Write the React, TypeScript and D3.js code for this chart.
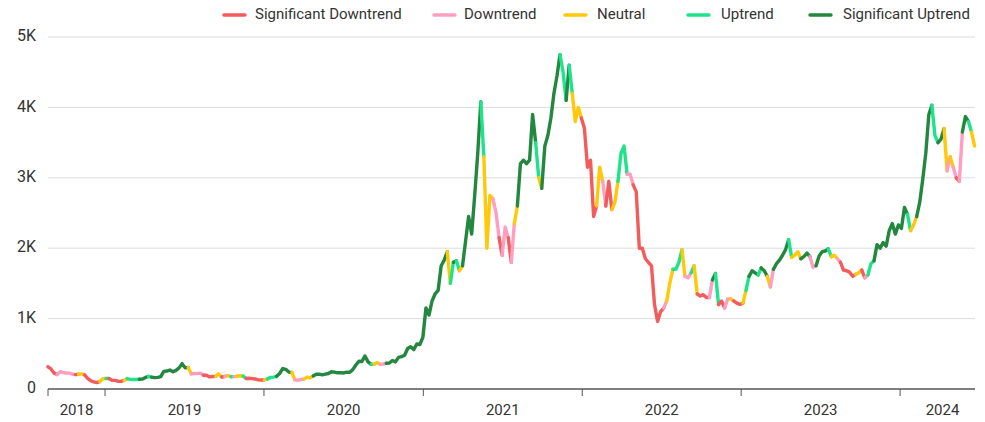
import React from 'react';
import * as d3 from 'd3';

// weekly closes, first point on 2018-08-23, one point every 7 days
const prices2018 = [315, 285, 225, 205, 245, 235, 228, 225, 212, 205, 210, 215, 200, 150, 118, 100, 90, 105, 145, 150];
const prices2019 = [
  150, 125, 122, 110, 108, 122, 148, 137, 135, 135, 138, 142, 165, 178, 168, 162, 165, 175, 250, 255,
  270, 245, 265, 300, 360, 300, 305, 215, 220, 218, 225, 195, 195, 172, 178, 180, 215, 170, 178, 190,
  175, 176, 182, 188, 185, 150, 152, 148, 142, 130, 128, 132,
];
const prices2020 = [
  143, 165, 168, 180, 220, 290, 280, 240, 235, 130, 125, 135, 140, 170, 158, 185, 210, 210, 200, 210,
  220, 245, 240, 230, 232, 228, 240, 238, 275, 340, 395, 390, 470, 385, 350, 352, 375, 350, 355, 365,
  370, 405, 385, 450, 460, 480, 575, 600, 560, 640, 630, 735,
];
const prices2021 = [
  1150, 1050, 1250, 1350, 1400, 1750, 1830, 1950, 1500, 1800, 1820, 1680, 1750, 2100, 2450, 2200, 2750, 3350, 4080, 3300,
  2000, 2750, 2700, 2500, 2150, 1900, 2300, 2150, 1800, 2350, 2600, 3200, 3250, 3200, 3250, 3900, 3500, 3000, 2850, 3450,
  3600, 3850, 4200, 4450, 4750, 4500, 4100, 4600, 4200, 3800, 4000, 3850,
];
const prices2022 = [
  3700, 3150, 3250, 2450, 2600, 3150, 2950, 2600, 2950, 2550, 2650, 2950, 3350, 3450, 3050, 3050, 2900, 2800, 2000, 2000,
  1850, 1800, 1750, 1200, 960, 1100, 1150, 1250, 1500, 1700, 1700, 1800, 1980, 1600, 1580, 1650, 1750, 1350, 1320, 1340,
  1300, 1300, 1550, 1640, 1200, 1250, 1150, 1280, 1280, 1250, 1220, 1200,
];
const prices2023 = [
  1220, 1400, 1600, 1680, 1650, 1620, 1720, 1680, 1600, 1450, 1700, 1780, 1830, 1900, 1980, 2120, 1870, 1900, 1950, 1850,
  1880, 1930, 1880, 1730, 1750, 1890, 1950, 1960, 1990, 1880, 1900, 1850, 1800, 1690, 1680, 1660, 1600, 1630, 1650, 1690,
  1580, 1620, 1780, 1820, 2050, 2000, 2080, 2030, 2250, 2350, 2200, 2330,
];
const prices2024 = [
  2280, 2580, 2480, 2250, 2330, 2450, 2650, 2980, 3350, 3900, 4030, 3600, 3500, 3550, 3700, 3100, 3300, 3150, 3000, 2950,
  3650, 3870, 3800, 3650, 3450,
];

// trend regime per point: 0 sig. down, 1 down, 2 neutral, 3 up, 4 sig. up
const regimes2018 = '10001111110220000022';
const regimes2019 = ['300000233334443444444444444', '2111100002201231223000000'].join('');
const regimes2020 = ['2333444442111222', '4444444444444444444', '32211', '444444444444'].join('');
const regimes2021 = ['44444444', '23432', '444444', '3222', '11011', '0124', '44444', '32', '444444', '3343', '222'].join('');
const regimes2022 = ['00000', '22', '1', '00', '22', '333', '11', '0000000000', '1', '22', '333', '2', '11', '3', '2', '0000', '1', '4', '3', '00', '11', '2', '00'].join('');
const regimes2023 = ['0', '2', '3', '444', '3', '44', '2', '1', '44444', '3', '222', '444', '11', '4444', '3', '22', '1', '00000', '22', '0', '1', '33', '44444444'].join('');
const regimes2024 = '4443224444433442121014432';

const trendNames = ['Significant Downtrend', 'Downtrend', 'Neutral', 'Uptrend', 'Significant Uptrend'];
const trendColors = ['#f25c5c', '#ff9ec0', '#ffc808', '#1fe38b', '#23873f'];
const yTicks = [0, 1000, 2000, 3000, 4000, 5000];
const yearLabels = [2018, 2019, 2020, 2021, 2022, 2023, 2024];

const W = 985;
const H = 422;
const START = new Date(2018, 7, 23);
const END = new Date(2024, 5, 21);
const FONT = 'Roboto, "Noto Sans", sans-serif';

// legend item positions: [marker start, text start]
const legendPos = [[224, 255], [434, 464], [565, 597], [688, 721], [810, 843]];

const App = () => {
  const prices = [...prices2018, ...prices2019, ...prices2020, ...prices2021, ...prices2022, ...prices2023, ...prices2024];
  const regimes = regimes2018 + regimes2019 + regimes2020 + regimes2021 + regimes2022 + regimes2023 + regimes2024;
  const data = prices.map((v, i) => ({
    date: d3.timeDay.offset(START, i * 7),
    value: v,
    regime: +(regimes[i] ?? '4'),
  }));

  const x = d3.scaleTime().domain([START, END]).range([48, 975]);
  const y = d3.scaleLinear().domain([0, 5000]).range([389, 37]);

  // split into runs of the same regime, each run starts at previous point so it joins
  const runs: { regime: number; pts: typeof data }[] = [];
  data.forEach((d, i) => {
    const last = runs[runs.length - 1];
    if (last && last.regime === d.regime) last.pts.push(d);
    else runs.push({ regime: d.regime, pts: i > 0 ? [data[i - 1], d] : [d] });
  });

  const line = d3.line<{ date: Date; value: number }>()
    .x((d) => x(d.date))
    .y((d) => y(d.value));

  const yearTicks = d3.timeYear.range(d3.timeYear.ceil(START), END);
  const labelX = (yr: number) => {
    const a = Math.max(x(new Date(yr, 0, 1)), 48);
    const b = Math.min(x(new Date(yr + 1, 0, 1)), W);
    return (a + b) / 2;
  };

  return (
    <svg
      width={W}
      height={H}
      style={{ position: 'absolute', left: 0, top: 0, fontFamily: FONT }}
    >
      <rect width={W} height={H} fill="#fff" />
      {yTicks.map((t) => (
        <g key={t}>
          {t > 0 && <line x1={48} x2={975} y1={y(t)} y2={y(t)} stroke="#dcdcdc" strokeWidth={1} />}
          <text x={36} y={y(t)} textAnchor="end" dominantBaseline="middle" fontSize={16} fill="#333">
            {t === 0 ? '0' : `${t / 1000}K`}
          </text>
        </g>
      ))}
      <line x1={48} x2={975} y1={389} y2={389} stroke="#555" strokeWidth={1.5} />
      {[START, ...yearTicks].map((d) => (
        <line key={+d} x1={x(d)} x2={x(d)} y1={389} y2={396} stroke="#555" strokeWidth={1} />
      ))}
      {yearLabels.map((yr) => (
        <text key={yr} x={labelX(yr)} y={411} textAnchor="middle" dominantBaseline="middle" fontSize={15} fill="#333">
          {yr}
        </text>
      ))}
      <g fill="none" strokeWidth={3.4} strokeLinejoin="round" strokeLinecap="round">
        {runs.map((r, i) => (
          <path key={i} d={line(r.pts) as string} stroke={trendColors[r.regime]} />
        ))}
      </g>
      {trendNames.map((name, i) => (
        <g key={name}>
          <line
            x1={legendPos[i][0]}
            x2={legendPos[i][0] + 21}
            y1={15}
            y2={15}
            stroke={trendColors[i]}
            strokeWidth={3.4}
            strokeLinecap="round"
          />
          <text x={legendPos[i][1]} y={15} dominantBaseline="middle" fontSize={15} fill="#333">
            {name}
          </text>
        </g>
      ))}
    </svg>
  );
};

export default App;
